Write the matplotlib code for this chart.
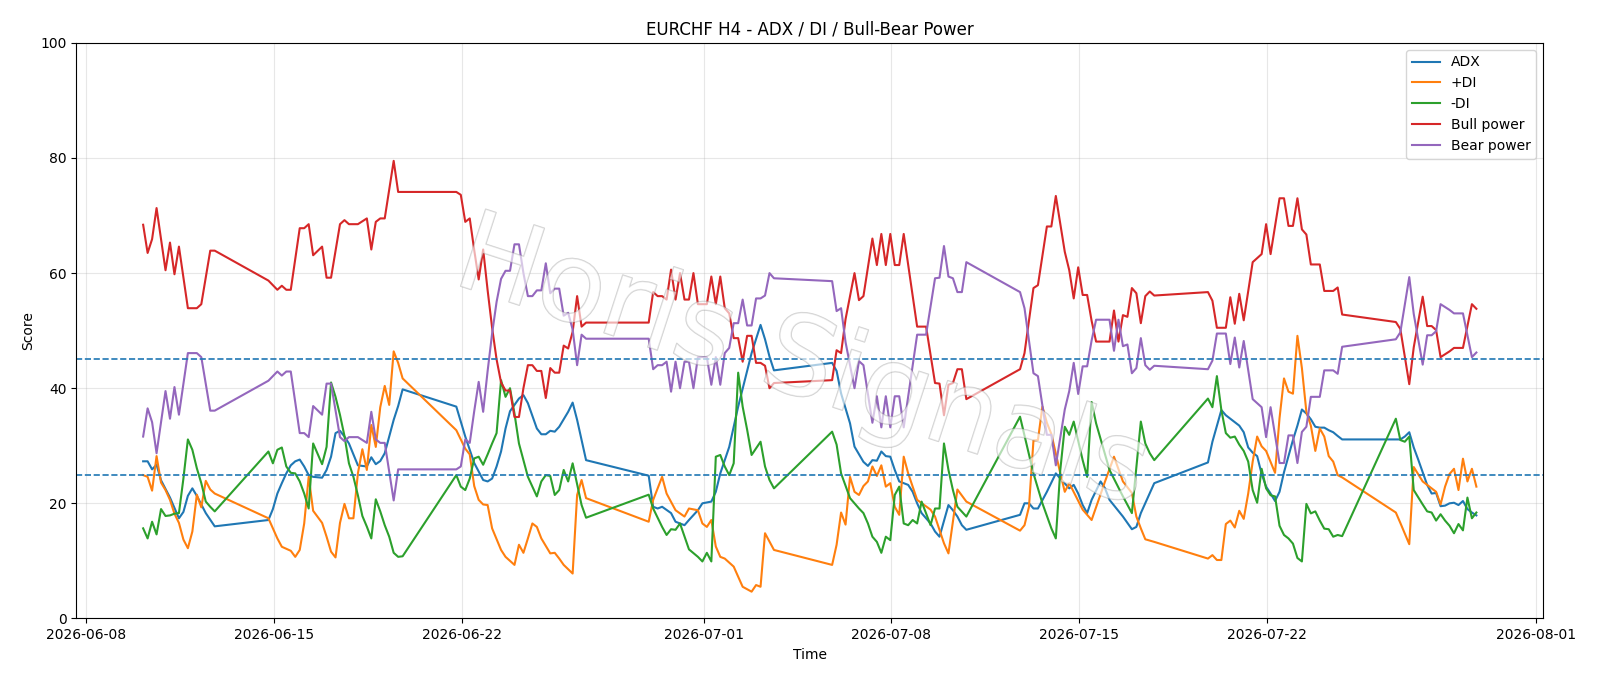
import numpy as np
import pandas as pd
import matplotlib
matplotlib.use("Agg")
import matplotlib.pyplot as plt
import matplotlib.patheffects as pe

################# DATA ####################
# bars are 4h candles counted from 2026-06-10 03:00

start = pd.Timestamp("2026-06-10 03:00")

adx_bar = [0, 1, 2, 3, 4, 6, 8, 9, 10, 11, 12, 14, 16,
           28, 29, 30, 31, 32, 33, 34, 35, 36, 37, 38, 40, 41, 42, 43, 44, 45, 46, 48, 50, 51, 52, 53, 54, 55, 56, 57, 58,
           70, 72, 74, 76, 77, 78, 79, 80, 81, 82, 84, 85, 86, 88, 89, 90, 91, 92, 93, 94, 95, 96, 97, 98, 99,
           113, 114, 115, 116, 118, 119, 121, 122, 124, 125, 127, 128, 129, 131, 133, 136, 138, 139, 140, 141,
           154, 155, 156, 158, 159, 161, 162, 163, 164, 165, 166, 167, 168, 169, 170, 171, 172, 173, 174, 176, 177, 178, 180, 181, 182, 183, 184,
           196, 197, 198, 199, 200, 202, 204, 205, 207, 208, 209, 210, 211, 212, 214, 215, 216, 219, 221, 222, 223, 226,
           238, 239, 241, 242, 243, 244, 245, 246, 247, 248, 249, 250, 251, 252, 253, 254, 255, 257, 258, 259, 260, 261, 262, 263, 264, 265, 266, 267, 268,
           280, 281, 282, 283, 284, 285, 287, 288, 289, 290, 291, 292, 293, 294, 295, 296, 297, 298]
adx_val = [27.3, 27.3, 25.9, 26.7, 24.0, 21.0, 17.4, 18.5, 21.3, 22.6, 21.3, 18.3, 16.0,
           17.1, 19.0, 21.7, 23.5, 25.2, 26.6, 27.3, 27.6, 26.4, 24.9, 24.6, 24.45, 25.8, 28.1, 32.2, 32.6, 31.6, 30.4, 26.6, 26.4, 28.0, 26.8, 27.35, 28.7, 31.6, 34.5, 36.9, 39.8,
           36.8, 31.6, 27.0, 24.05, 23.8, 24.3, 26.4, 29.0, 33.0, 36.0, 38.2, 38.8, 37.4, 33.0, 32.0, 32.0, 32.6, 32.45, 33.3, 34.6, 35.9, 37.5, 34.5, 31.0, 27.5,
           24.8, 19.4, 19.1, 19.4, 18.3, 16.8, 16.2, 17.1, 18.8, 20.0, 20.3, 22.0, 25.2, 29.8, 36.8, 46.1, 51.0, 48.5, 45.5, 43.1,
           44.4, 43.0, 39.1, 33.9, 29.85, 27.2, 26.5, 27.5, 27.4, 29.0, 28.2, 28.1, 25.8, 23.8, 23.5, 23.2, 22.0, 20.0, 18.3, 16.5, 15.1, 14.2, 19.7, 18.8, 17.7, 16.2, 15.4,
           18.0, 20.0, 20.0, 19.1, 19.1, 22.0, 25.2, 24.3, 22.6, 23.2, 21.7, 19.7, 18.3, 20.6, 23.8, 22.6, 20.6, 17.7, 15.5, 15.9, 18.3, 23.5,
           27.1, 30.7, 36.2, 35.3, 34.7, 34.1, 33.5, 32.35, 29.7, 28.8, 28.2, 25.1, 22.9, 21.7, 20.4, 22.0, 25.4, 31.0, 33.5, 36.3, 35.6, 34.6, 33.3, 33.15, 33.15, 32.7, 32.35, 31.7, 31.1,
           31.1, 31.1, 31.6, 32.35, 29.7, 27.6, 23.2, 21.7, 21.8, 19.5, 19.6, 20.0, 20.1, 19.7, 20.4, 19.0, 18.4, 17.9]

pdi_bar = [0, 1, 2, 3, 4, 5, 6, 7, 8, 9, 10, 11, 12, 13, 14, 15, 16,
           28, 30, 31, 33, 34, 35, 36, 37, 38, 40, 41, 42, 43, 44, 45, 46, 47, 48, 49, 50, 51, 52, 53, 54, 55, 56, 57, 58,
           70, 72, 73, 74, 75, 76, 77, 78, 80, 81, 83, 84, 85, 86, 87, 88, 89, 91, 92, 93, 94, 96, 97, 98, 99,
           113, 114, 116, 117, 119, 121, 122, 124, 125, 126, 127, 128, 129, 130, 132, 134, 136, 137, 138, 139, 141,
           154, 155, 156, 157, 158, 159, 160, 161, 162, 163, 164, 165, 166, 167, 168, 169, 170, 171, 173, 176, 177, 179, 180, 182, 184,
           196, 197, 198, 199, 200, 201, 202, 203, 205, 206, 207, 210, 212, 215, 217, 219, 221, 222, 223, 224, 226,
           238, 239, 240, 241, 242, 243, 244, 245, 246, 247, 248, 249, 250, 251, 253, 254, 255, 256, 257, 258, 259, 260, 261, 262, 263, 264, 265, 266, 267, 268,
           280, 281, 283, 284, 286, 287, 289, 290, 291, 292, 293, 294, 295, 296, 297, 298]
pdi_val = [24.9, 24.6, 22.2, 28.2, 23.6, 22.3, 20.6, 18.2, 16.6, 13.7, 12.2, 15.1, 21.5, 19.3, 23.9, 22.4, 21.7,
           17.4, 13.9, 12.45, 11.75, 10.7, 11.9, 16.5, 24.6, 18.7, 16.6, 14.2, 11.6, 10.6, 16.6, 19.9, 17.4, 17.4, 25.2, 29.4, 25.8, 33.6, 29.8, 36.7, 40.4, 37.1, 46.4, 44.4, 41.7,
           32.7, 29.5, 28.5, 23.0, 20.6, 19.8, 19.7, 15.65, 11.9, 10.7, 9.3, 12.8, 11.4, 13.9, 16.5, 15.9, 13.9, 11.3, 11.4, 10.4, 9.3, 7.8, 21.45, 24.05, 20.9,
           16.8, 20.6, 24.6, 21.7, 18.8, 17.7, 19.1, 18.8, 16.5, 15.9, 17.1, 12.5, 10.7, 10.4, 9.0, 5.5, 4.65, 5.8, 5.5, 14.8, 11.9,
           9.3, 12.8, 18.4, 16.3, 24.6, 22.0, 21.45, 23.0, 23.8, 26.4, 24.75, 26.6, 22.9, 23.5, 19.4, 18.0, 28.1, 25.2, 20.6, 18.9, 17.7, 13.05, 11.3, 22.4, 20.3,
           15.25, 16.2, 19.4, 30.9, 31.0, 36.8, 34.0, 32.05, 25.2, 22.0, 23.5, 18.9, 17.1, 23.8, 28.1, 23.8, 21.8, 17.7, 15.65, 13.75, 13.3,
           10.4, 11.0, 10.15, 10.15, 16.4, 17.0, 15.8, 18.7, 17.3, 21.7, 27.25, 31.6, 29.9, 29.1, 25.3, 34.8, 41.7, 39.4, 39.05, 49.1, 43.5, 35.9, 33.5, 29.1, 33.0, 31.6, 28.2, 27.25, 24.9, 24.5,
           18.4, 16.6, 12.9, 26.3, 23.8, 23.2, 22.0, 19.8, 22.9, 25.1, 26.0, 22.3, 27.75, 23.8, 26.0, 22.9]

mdi_bar = [0, 1, 2, 3, 4, 5, 6, 7, 8, 9, 10, 11, 12, 13, 14, 15, 16,
           28, 29, 30, 31, 32, 33, 34, 35, 36, 37, 38, 39, 40, 41, 42, 43, 44, 45, 46, 47, 48, 49, 50, 51, 52, 53, 54, 55, 56, 57, 58,
           70, 71, 72, 73, 74, 75, 76, 77, 78, 79, 80, 81, 82, 83, 84, 86, 88, 89, 90, 91, 92, 93, 94, 95, 96, 98, 99,
           113, 114, 116, 117, 118, 119, 120, 122, 124, 125, 126, 127, 128, 129, 130, 131, 132, 133, 134, 135, 136, 138, 139, 140, 141,
           154, 155, 156, 158, 160, 161, 162, 163, 164, 165, 166, 167, 168, 169, 170, 171, 172, 173, 174, 176, 177, 178, 179, 180, 181, 182, 184,
           196, 199, 201, 203, 204, 205, 206, 207, 208, 210, 211, 212, 213, 216, 219, 221, 223, 224, 225, 226,
           238, 239, 240, 241, 242, 243, 244, 245, 246, 247, 248, 249, 250, 251, 252, 253, 254, 255, 256, 257, 258, 259, 260, 261, 262, 263, 264, 265, 266, 267, 268,
           280, 281, 282, 283, 284, 286, 287, 288, 289, 290, 291, 292, 293, 294, 295, 296, 297, 298]
mdi_val = [15.65, 13.9, 16.8, 14.6, 19.0, 17.8, 17.9, 18.2, 18.3, 24.3, 31.1, 29.3, 26.1, 23.5, 20.3, 19.4, 18.6,
           29.0, 26.95, 29.3, 29.7, 26.4, 25.3, 25.2, 23.8, 21.7, 19.1, 30.4, 28.6, 26.8, 29.8, 41.0, 38.5, 35.35, 31.7, 26.95, 24.6, 21.4, 17.8, 15.95, 13.9, 20.7, 18.6, 16.2, 14.2, 11.4, 10.7, 10.8,
           24.9, 22.9, 22.3, 24.3, 27.8, 28.1, 26.7, 28.5, 30.4, 32.2, 41.4, 38.5, 40.0, 35.6, 30.4, 24.6, 21.2, 23.8, 24.9, 24.75, 21.45, 22.3, 25.8, 23.8, 26.95, 19.7, 17.5,
           21.5, 19.1, 15.9, 14.5, 15.5, 15.4, 16.5, 12.0, 10.7, 9.9, 11.4, 9.9, 28.1, 28.4, 26.4, 24.9, 26.95, 42.7, 36.8, 32.8, 28.4, 30.7, 26.4, 24.05, 22.6,
           32.45, 30.2, 25.2, 20.9, 19.1, 18.3, 16.5, 14.2, 13.3, 11.4, 14.2, 13.6, 21.45, 22.9, 16.5, 16.2, 17.1, 16.5, 20.3, 16.2, 19.1, 19.1, 30.4, 25.8, 22.3, 19.4, 17.7,
           35.05, 25.2, 20.0, 15.65, 13.9, 25.8, 33.3, 31.9, 34.2, 27.5, 24.6, 37.6, 33.9, 25.8, 21.2, 18.3, 34.2, 30.4, 28.7, 27.5,
           38.2, 36.7, 42.1, 36.2, 32.2, 31.4, 31.6, 30.2, 29.1, 27.25, 22.3, 20.1, 26.0, 22.6, 21.4, 21.2, 16.1, 14.5, 13.9, 13.0, 10.5, 9.9, 19.9, 18.25, 18.6, 17.0, 15.6, 15.5, 14.2, 14.5, 14.3,
           34.7, 31.0, 30.7, 31.6, 22.3, 19.8, 18.6, 18.4, 17.0, 18.1, 17.0, 16.1, 14.8, 16.4, 15.3, 21.0, 17.4, 18.4]

# bull and bear power share the same bars
power_bar = [0, 1, 2, 3, 5, 6, 7, 8, 10, 12, 13, 15, 16,
             28, 30, 31, 32, 33, 35, 36, 37, 38, 40, 41, 42, 44, 45, 46, 48, 50, 51, 52, 53, 54, 56, 57, 58,
             70, 71, 72, 73, 74, 75, 76, 77, 78, 79, 80, 81, 82, 83, 84, 85, 86, 87, 88, 89, 90, 91, 92, 93, 94, 95, 96, 97, 98, 99,
             113, 114, 115, 116, 117, 118, 119, 120, 121, 122, 123, 124, 126, 127, 128, 129, 130, 131, 132, 133, 134, 135, 136, 137, 138, 139, 140, 141,
             154, 155, 156, 157, 158, 159, 160, 161, 163, 164, 165, 166, 167, 168, 169, 170, 173, 175, 177, 178, 179, 180, 181, 182, 183, 184,
             196, 197, 199, 200, 202, 203, 204, 206, 207, 208, 209, 210, 211, 212, 213, 214, 216, 217, 218, 219, 220, 221, 222, 223, 224, 225, 226,
             238, 239, 240, 242, 243, 244, 245, 246, 248, 250, 251, 252, 253, 254, 255, 256, 257, 258, 259, 260, 261, 263, 264, 266, 267, 268,
             280, 281, 283, 284, 286, 287, 288, 289, 290, 292, 293, 295, 297, 298]
bull_val = [68.4, 63.5, 65.9, 71.3, 60.5, 65.3, 59.8, 64.6, 53.9, 53.9, 54.6, 63.9, 63.9,
            58.7, 57.1, 57.8, 57.1, 57.1, 67.8, 67.8, 68.5, 63.1, 64.6, 59.2, 59.2, 68.5, 69.2, 68.5, 68.5, 69.5, 64.1, 68.9, 69.5, 69.5, 79.5, 74.1, 74.1,
            74.1, 73.6, 68.9, 69.5, 64.0, 58.9, 64.1, 57.0, 50.5, 45.0, 41.0, 39.6, 39.6, 35.0, 35.0, 40.0, 44.0, 44.0, 43.0, 43.0, 38.3, 43.5, 42.7, 42.7, 47.4, 46.9, 49.8, 56.0, 50.7, 51.4,
            51.4, 56.7, 56.0, 56.0, 55.4, 60.6, 55.4, 60.0, 55.4, 55.4, 60.0, 54.6, 54.6, 59.4, 54.6, 59.4, 53.9, 53.0, 48.7, 48.7, 44.6, 49.1, 49.1, 44.4, 44.4, 43.9, 40.0, 40.9,
            41.4, 46.6, 46.1, 52.0, 56.0, 60.0, 55.3, 56.0, 66.0, 61.4, 66.8, 61.4, 66.8, 61.4, 61.4, 66.8, 50.7, 50.7, 40.9, 40.8, 35.3, 40.6, 40.9, 43.3, 43.3, 38.1,
            43.3, 46.1, 57.4, 57.9, 68.1, 68.1, 73.4, 63.7, 60.5, 55.6, 61.0, 56.2, 56.2, 51.7, 48.1, 48.1, 48.1, 53.5, 48.1, 52.7, 52.4, 57.4, 56.5, 51.3, 56.0, 56.8, 56.1,
            56.7, 55.2, 50.5, 50.5, 55.8, 51.2, 56.4, 51.8, 61.9, 63.3, 68.5, 63.3, 68.1, 73.0, 73.0, 68.2, 68.2, 73.0, 67.6, 66.7, 61.5, 61.5, 56.9, 56.9, 57.5, 52.8,
            51.5, 50.3, 40.7, 47.1, 55.9, 50.8, 50.8, 50.1, 45.4, 46.4, 47.0, 47.0, 54.6, 53.8]
bear_val = [31.6, 36.5, 34.1, 28.7, 39.5, 34.7, 40.2, 35.4, 46.1, 46.1, 45.4, 36.1, 36.1,
            41.3, 42.9, 42.2, 42.9, 42.9, 32.2, 32.2, 31.5, 36.9, 35.4, 40.8, 40.8, 31.5, 30.8, 31.5, 31.5, 30.5, 35.9, 31.1, 30.5, 30.5, 20.5, 25.9, 25.9,
            25.9, 26.4, 31.1, 30.5, 36.0, 41.1, 35.9, 43.0, 49.5, 55.0, 59.0, 60.4, 60.4, 65.0, 65.0, 60.0, 56.0, 56.0, 57.0, 57.0, 61.7, 56.5, 57.3, 57.3, 52.6, 53.1, 50.2, 44.0, 49.3, 48.6,
            48.6, 43.3, 44.0, 44.0, 44.6, 39.4, 44.6, 40.0, 44.6, 44.6, 40.0, 45.4, 45.4, 40.6, 45.4, 40.6, 46.1, 47.0, 51.3, 51.3, 55.4, 50.9, 50.9, 55.6, 55.6, 56.1, 60.0, 59.1,
            58.6, 53.4, 53.9, 48.0, 44.0, 40.0, 44.7, 44.0, 34.0, 38.6, 33.2, 38.6, 33.2, 38.6, 38.6, 33.2, 49.3, 49.3, 59.1, 59.2, 64.7, 59.4, 59.1, 56.7, 56.7, 61.9,
            56.7, 53.9, 42.6, 42.1, 31.9, 31.9, 26.6, 36.3, 39.5, 44.4, 39.0, 43.8, 43.8, 48.3, 51.9, 51.9, 51.9, 46.5, 51.9, 47.3, 47.6, 42.6, 43.5, 48.7, 44.0, 43.2, 43.9,
            43.3, 44.8, 49.5, 49.5, 44.2, 48.8, 43.6, 48.2, 38.1, 36.7, 31.5, 36.7, 31.9, 27.0, 27.0, 31.8, 31.8, 27.0, 32.4, 33.3, 38.5, 38.5, 43.1, 43.1, 42.5, 47.2,
            48.5, 49.7, 59.3, 52.9, 44.1, 49.2, 49.2, 49.9, 54.6, 53.6, 53.0, 53.0, 45.4, 46.2]

levels = [45, 25]

#################################################


def bar_time(bars):
    return start + pd.to_timedelta(np.array(bars) * 4, unit="h")


fig = plt.figure(figsize=(16, 6.86), dpi=100)
ax = fig.add_axes([0.0478, 0.0985, 0.9166, 0.839])

ax.plot(bar_time(adx_bar), adx_val, label="ADX", color="C0", lw=1.5)
ax.plot(bar_time(pdi_bar), pdi_val, label="+DI", color="C1", lw=1.5)
ax.plot(bar_time(mdi_bar), mdi_val, label="-DI", color="C2", lw=1.5)
ax.plot(bar_time(power_bar), bull_val, label="Bull power", color="C3", lw=1.5)
ax.plot(bar_time(power_bar), bear_val, label="Bear power", color="C4", lw=1.5)
for lv in levels:
    ax.axhline(lv, color="C0", linestyle="--", lw=1.2)

ax.set_ylim(0, 100)
ax.set_title("EURCHF H4 - ADX / DI / Bull-Bear Power", fontsize=12)
ax.set_xlabel("Time")
ax.set_ylabel("Score")
ax.grid(True, alpha=0.3)
ax.legend(loc="upper right")

# faint outlined watermark across the middle
ax.text(0.495, 0.44, "Horis Signals", transform=ax.transAxes, fontsize=80,
        rotation=-18, ha="center", va="center", color="white", alpha=0.4,
        path_effects=[pe.withStroke(linewidth=1.0, foreground="#8c8c8c")], zorder=10)

fig.savefig("out.png", dpi=100)
